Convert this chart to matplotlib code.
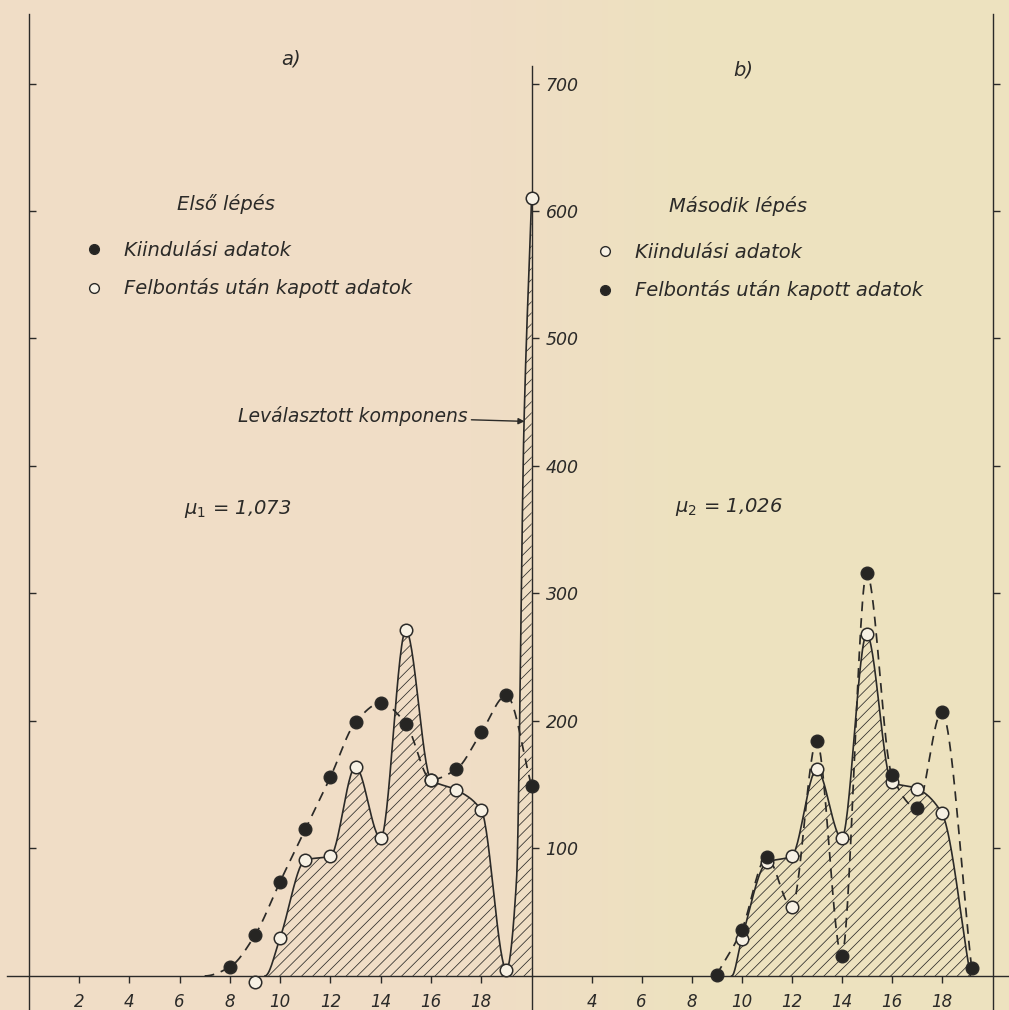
import numpy as np
import matplotlib
matplotlib.use('Agg')
import matplotlib.pyplot as plt
from matplotlib.lines import Line2D
import matplotlib.lines as mlines

plt.rcParams['font.family'] = ['DejaVu Sans']
plt.rcParams['mathtext.fontset'] = 'dejavusans'
plt.rcParams['hatch.linewidth'] = 0.55
plt.rcParams['lines.scale_dashes'] = False

# --- a) Első lépés ---
a_kiind_x = [8, 9, 10, 11, 12, 13, 14, 15, 16, 17, 18, 19, 20]
a_kiind_y = [7, 32, 74, 115, 156, 199, 214, 198, 154, 162, 191, 220, 149]
a_kiind_start = 7.0          # dashed curve leaves the baseline here

a_felb_x = [9, 10, 11, 12, 13, 14, 15, 16, 17, 18, 19, 20]
a_felb_y = [-5, 30, 91, 94, 164, 108, 271, 154, 146, 130, 5, 610]
a_felb_start = 9.4           # solid curve leaves the baseline here
a_spike_x = [19.4, 19.7]     # separated component, left edge
a_spike_y = [75, 435]

# --- b) Második lépés ---
b_kiind_x = [10, 11, 12, 13, 14, 15, 16, 17, 18]
b_kiind_y = [29, 89, 94, 162, 108, 268, 152, 147, 128]
b_kiind_start = 9.6
b_kiind_end = 19.15

b_felb_x = [9, 10, 11, 12, 13, 14, 15, 16, 17, 18, 19.2]
b_felb_y = [1, 36, 93, 54, 184, 16, 316, 158, 132, 207, 6]
b_felb_hollow = [False, False, False, True, False, False, False, False, False, False, False]

y_ticks = [100, 200, 300, 400, 500, 600, 700]
a_xticks = [2, 4, 6, 8, 10, 12, 14, 16, 18]
b_xticks = [4, 6, 8, 10, 12, 14, 16, 18]

INK = '#2b2a28'
PAPER = '#f7f1e4'


def smooth(x, y, n=30):
    # monotone cubic (Fritsch-Carlson) through the points, for drawing only
    x = np.asarray(x, float)
    y = np.asarray(y, float)
    h = np.diff(x)
    d = np.diff(y) / h
    m = np.zeros_like(y)
    for k in range(1, len(x) - 1):
        if d[k - 1] * d[k] > 0:
            w1 = 2 * h[k] + h[k - 1]
            w2 = h[k] + 2 * h[k - 1]
            m[k] = (w1 + w2) / (w1 / d[k - 1] + w2 / d[k])
    m[0] = 0 if y[0] == 0 else d[0]
    m[-1] = d[-1]
    xs, ys = [], []
    for k in range(len(x) - 1):
        t = np.linspace(0, 1, n, endpoint=(k == len(x) - 2))
        h00 = 2 * t**3 - 3 * t**2 + 1
        h10 = t**3 - 2 * t**2 + t
        h01 = -2 * t**3 + 3 * t**2
        h11 = t**3 - t**2
        xs.append(x[k] + t * h[k])
        ys.append(h00 * y[k] + h10 * h[k] * m[k] + h01 * y[k + 1] + h11 * h[k] * m[k + 1])
    return np.concatenate(xs), np.concatenate(ys)


W, H = 1009, 1010
fig = plt.figure(figsize=(W / 100, H / 100), dpi=100)

# paper background, pinkish on the left, yellowish on the right
bg = fig.add_axes([0, 0, 1, 1], zorder=0)
bg.axis('off')
left_c = np.array([240, 221, 198]) / 255
right_c = np.array([237, 226, 191]) / 255
px = np.arange(W)
t = np.clip((px - 470) / 230, 0, 1)[:, None]
row = left_c * (1 - t) + right_c * t
grad = np.repeat(row[None, :, :], 8, axis=0)
bg.imshow(grad, aspect='auto', extent=[0, 1, 0, 1], interpolation='nearest')
bg.set_xlim(0, 1)
bg.set_ylim(0, 1)

ylim = (-26.7, 765.5)
axa = fig.add_axes([0, 0, 533 / W, 1], zorder=1)
axb = fig.add_axes([533 / W, 0, 476 / W, 1], zorder=1)
for ax in (axa, axb):
    ax.patch.set_alpha(0)
    ax.set_ylim(*ylim)
    ax.spines['top'].set_visible(False)
    for s in ax.spines.values():
        s.set_color(INK)
        s.set_linewidth(1.0)
axa.set_xlim(-28.6 / 25.15, (533 - 28.6) / 25.15)
axb.set_xlim((533 - 491.7) / 25, (1009 - 491.7) / 25)

# axes lines
axa.spines['left'].set_position(('data', 0))
axa.spines['left'].set_bounds(ylim[0], 754.5)
axa.spines['right'].set_position(('data', 20))
axa.spines['right'].set_bounds(ylim[0], 713.7)
axa.spines['bottom'].set_position(('data', 0))
axa.spines['bottom'].set_bounds(-0.84, 20)
axb.spines['left'].set_visible(False)
axb.spines['right'].set_position(('axes', 460 / 476))
axb.spines['right'].set_bounds(ylim[0], 754.5)
axb.spines['bottom'].set_position(('data', 0))

axa.set_yticks(y_ticks)
axa.set_yticklabels([str(v) for v in y_ticks])
axa.tick_params(axis='y', left=True, right=True, labelleft=False, labelright=True,
                direction='out', length=5, width=1.0, color=INK, pad=5,
                labelsize=12.5, labelcolor=INK)
for tk in axa.yaxis.get_major_ticks():
    tk.tick1line.set_marker(mlines.TICKRIGHT)
axb.set_yticks(y_ticks)
axb.tick_params(axis='y', left=False, right=True, labelleft=False, labelright=False,
                direction='out', length=5, width=1.0, color=INK)

axa.set_xticks(a_xticks)
axa.set_xticklabels([str(v) for v in a_xticks])
axb.set_xticks(b_xticks)
axb.set_xticklabels([str(v) for v in b_xticks])
for ax in (axa, axb):
    ax.tick_params(axis='x', direction='out', length=5, width=1.0, color=INK,
                   pad=7, labelsize=12, labelcolor=INK)
    for lab in ax.get_xticklabels() + ax.get_yticklabels():
        lab.set_fontstyle('italic')

mk = dict(marker='o', linestyle='none', markersize=9, markeredgewidth=1.1,
          markeredgecolor=INK, zorder=5, clip_on=False)
dash = dict(color=INK, lw=1.25, linestyle=(0, (7, 5)), zorder=3, clip_on=False)
solid = dict(color=INK, lw=1.2, zorder=3, clip_on=False)

# panel a
cx, cy = smooth([a_felb_start] + a_felb_x[1:11] + a_spike_x + a_felb_x[11:],
                [0] + a_felb_y[1:11] + a_spike_y + a_felb_y[11:])
axa.fill_between(cx, 0, cy, facecolor='none', edgecolor=INK, hatch='///', lw=0, zorder=2)
axa.plot(cx, cy, **solid)
dx, dy = smooth([a_kiind_start] + a_kiind_x, [0] + a_kiind_y)
axa.plot(dx, dy, **dash)
axa.plot(a_kiind_x, a_kiind_y, markerfacecolor='#262523', **mk)
axa.plot(a_felb_x, a_felb_y, markerfacecolor=PAPER, **mk)

# panel b
cx, cy = smooth([b_kiind_start] + b_kiind_x + [b_kiind_end], [0] + b_kiind_y + [0])
axb.fill_between(cx, 0, cy, facecolor='none', edgecolor=INK, hatch='///', lw=0, zorder=2)
axb.plot(cx, cy, **solid)
dx, dy = smooth(b_felb_x, b_felb_y)
axb.plot(dx, dy, **dash)
axb.plot(b_kiind_x, b_kiind_y, markerfacecolor=PAPER, **mk)
for x, y, hol in zip(b_felb_x, b_felb_y, b_felb_hollow):
    axb.plot([x], [y], markerfacecolor=PAPER if hol else '#262523', **mk)


def figtxt(x, y, s, **kw):
    fig.text(x / W, 1 - y / H, s, color=INK, fontstyle='italic', **kw)


figtxt(291, 59, 'a)', fontsize=14, ha='center', va='center')
figtxt(743, 70, 'b)', fontsize=14, ha='center', va='center')
figtxt(226, 204, 'Első lépés', fontsize=14, ha='center', va='center')
figtxt(738, 206, 'Második lépés', fontsize=14, ha='center', va='center')
figtxt(184, 509, r'$\mu_1$ = 1,073', fontsize=14, ha='left', va='center')
figtxt(675, 507, r'$\mu_2$ = 1,026', fontsize=14, ha='left', va='center')

axa.annotate('Leválasztott komponens', xy=(19.72, 435), xytext=(17.44, 439),
             fontsize=13.5, fontstyle='italic', color=INK, ha='right', va='center',
             arrowprops=dict(arrowstyle='-|>', color=INK, lw=1.0,
                             mutation_scale=9, shrinkA=1, shrinkB=0))

filled_h = Line2D([], [], marker='o', linestyle='none', markersize=7,
                  markerfacecolor='#262523', markeredgecolor=INK)
open_h = Line2D([], [], marker='o', linestyle='none', markersize=7,
                markerfacecolor=PAPER, markeredgecolor=INK, markeredgewidth=1.0)
leg_kw = dict(loc='upper left', bbox_transform=fig.transFigure, frameon=False,
              borderpad=0, borderaxespad=0, handlelength=1.0, handletextpad=1.05,
              labelspacing=0.95, prop={'size': 14, 'style': 'italic'}, labelcolor=INK)
la = axa.legend([filled_h, open_h], ['Kiindulási adatok', 'Felbontás után kapott adatok'],
                bbox_to_anchor=(84 / W, 1 - 241 / H), **leg_kw)
lb = axb.legend([open_h, filled_h], ['Kiindulási adatok', 'Felbontás után kapott adatok'],
                bbox_to_anchor=(595 / W, 1 - 243 / H), **leg_kw)

fig.savefig('out.png', dpi=100)
